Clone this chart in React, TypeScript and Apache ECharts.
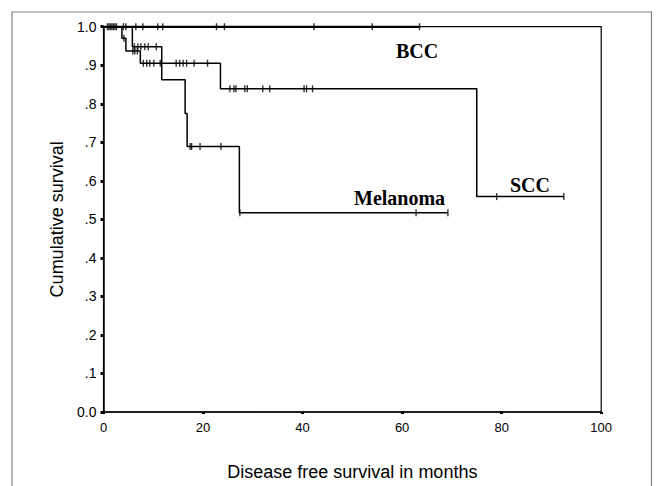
import React, { useEffect, useRef } from "react";
import * as echarts from "echarts";

const xTicks = [0, 20, 40, 60, 80, 100];
const bccTimes = [0, 63.5];
const bccSurv = [1, 1];
const bccCensor = [0.8, 1.1, 1.4, 1.7, 2.0, 2.3, 2.6, 4.0, 4.5, 6.5, 7.9, 10.9, 11.9, 22.7, 24.3, 42.3, 54.0, 63.5];
const sccTimes = [0, 3.7, 4.5, 7.4, 23.5, 75.0, 92.5];
const sccSurv = [1, 0.97, 0.937, 0.905, 0.839, 0.559, 0.559];
const sccCensor = [4.1, 5.9, 6.3, 6.8, 8.0, 8.7, 9.3, 10.1, 11.4, 14.6, 15.3, 16.0, 16.7, 18.2, 20.9, 25.4, 26.2, 26.6, 28.4, 28.9, 32.0, 33.4, 40.3, 40.8, 42.0, 79.0, 92.5];
const melTimes = [0, 5.8, 11.7, 16.4, 16.8, 27.3, 69.2];
const melSurv = [1, 0.948, 0.862, 0.775, 0.689, 0.517, 0.517];
const melCensor = [6.2, 6.9, 7.5, 8.3, 9.0, 10.6, 17.4, 17.7, 19.4, 23.6, 27.4, 62.8, 69.2];

function stepAt(times: number[], surv: number[], t: number) {
  let v = surv[0];
  for (let i = 0; i < times.length; i++) if (times[i] <= t) v = surv[i];
  return v;
}

export default function App() {
  const ref = useRef<HTMLDivElement>(null);
  useEffect(() => {
    if (!ref.current) return;
    const chart = echarts.init(ref.current, undefined, { renderer: "svg" });
    const curve = (name: string, times: number[], surv: number[], w: number) => ({
      name,
      type: "line",
      step: "end",
      showSymbol: false,
      z: 3,
      lineStyle: { color: "#000", width: w },
      data: times.map((t, i) => [t, surv[i]]),
    });
    const censor = (name: string, times: number[], surv: number[], c: number[]) => ({
      name,
      type: "scatter",
      symbol: "rect",
      symbolSize: [1.4, 7],
      z: 4,
      itemStyle: { color: "#000" },
      data: c.map((t) => [t, stepAt(times, surv, t)]),
    });
    chart.setOption({
      animation: false,
      backgroundColor: "#fff",
      grid: {
        left: 103.5,
        right: 54.8,
        top: 26.7,
        bottom: 73.7,
        show: true,
        borderColor: "#000",
        borderWidth: 1.2,
      },
      xAxis: {
        type: "value",
        min: 0,
        max: 100,
        interval: 20,
        name: "Disease free survival in months",
        nameLocation: "middle",
        nameGap: 51,
        nameTextStyle: { fontFamily: "Liberation Sans", fontSize: 18, color: "#000" },
        axisLine: { show: true, lineStyle: { color: "#000", width: 1.5 } },
        axisTick: { show: true, length: 2, lineStyle: { color: "#000", width: 3 } },
        axisLabel: {
          fontFamily: "Liberation Sans",
          fontSize: 13,
          color: "#000",
          margin: 9,
          formatter: (v: number) => (xTicks.includes(v) ? String(v) : ""),
        },
        splitLine: { show: false },
      },
      yAxis: {
        type: "value",
        min: 0,
        max: 1,
        interval: 0.1,
        name: "Cumulative survival",
        nameLocation: "middle",
        nameGap: 38,
        nameTextStyle: { fontFamily: "Liberation Sans", fontSize: 18, color: "#000" },
        axisLine: { show: true, lineStyle: { color: "#000", width: 1.5 } },
        axisTick: { show: true, length: 3, lineStyle: { color: "#000", width: 3 } },
        axisLabel: {
          fontFamily: "Liberation Sans",
          fontSize: 14,
          color: "#000",
          margin: 7,
          formatter: (v: number) => {
            const r = Math.round(v * 10) / 10;
            if (r === 0) return "0.0";
            if (r === 1) return "1.0";
            return "." + Math.round(r * 10);
          },
        },
        splitLine: { show: false },
      },
      graphic: [
        {
          type: "rect",
          shape: { x: 12, y: 12, width: 639.5, height: 500 },
          style: { fill: "none", stroke: "#808080", lineWidth: 1.2 },
          z: 0,
          silent: true,
        },
        {
          type: "text",
          x: 396,
          y: 61,
          style: { text: "BCC", fontFamily: "Liberation Serif", fontWeight: "bold", fontSize: 20, fill: "#000", verticalAlign: "bottom" },
        },
        {
          type: "text",
          x: 510,
          y: 195,
          style: { text: "SCC", fontFamily: "Liberation Serif", fontWeight: "bold", fontSize: 20, fill: "#000", verticalAlign: "bottom" },
        },
        {
          type: "text",
          x: 354,
          y: 208,
          style: { text: "Melanoma", fontFamily: "Liberation Serif", fontWeight: "bold", fontSize: 20, fill: "#000", verticalAlign: "bottom" },
        },
      ],
      series: [
        curve("BCC", bccTimes, bccSurv, 2.4),
        curve("SCC", sccTimes, sccSurv, 1.5),
        curve("Melanoma", melTimes, melSurv, 1.5),
        censor("BCC censored", bccTimes, bccSurv, bccCensor),
        censor("SCC censored", sccTimes, sccSurv, sccCensor),
        censor("Melanoma censored", melTimes, melSurv, melCensor),
      ],
    });
    return () => chart.dispose();
  }, []);
  return (
    <div
      ref={ref}
      style={{ position: "fixed", left: 0, top: 0, width: 656, height: 486, background: "#fff" }}
    />
  );
}
